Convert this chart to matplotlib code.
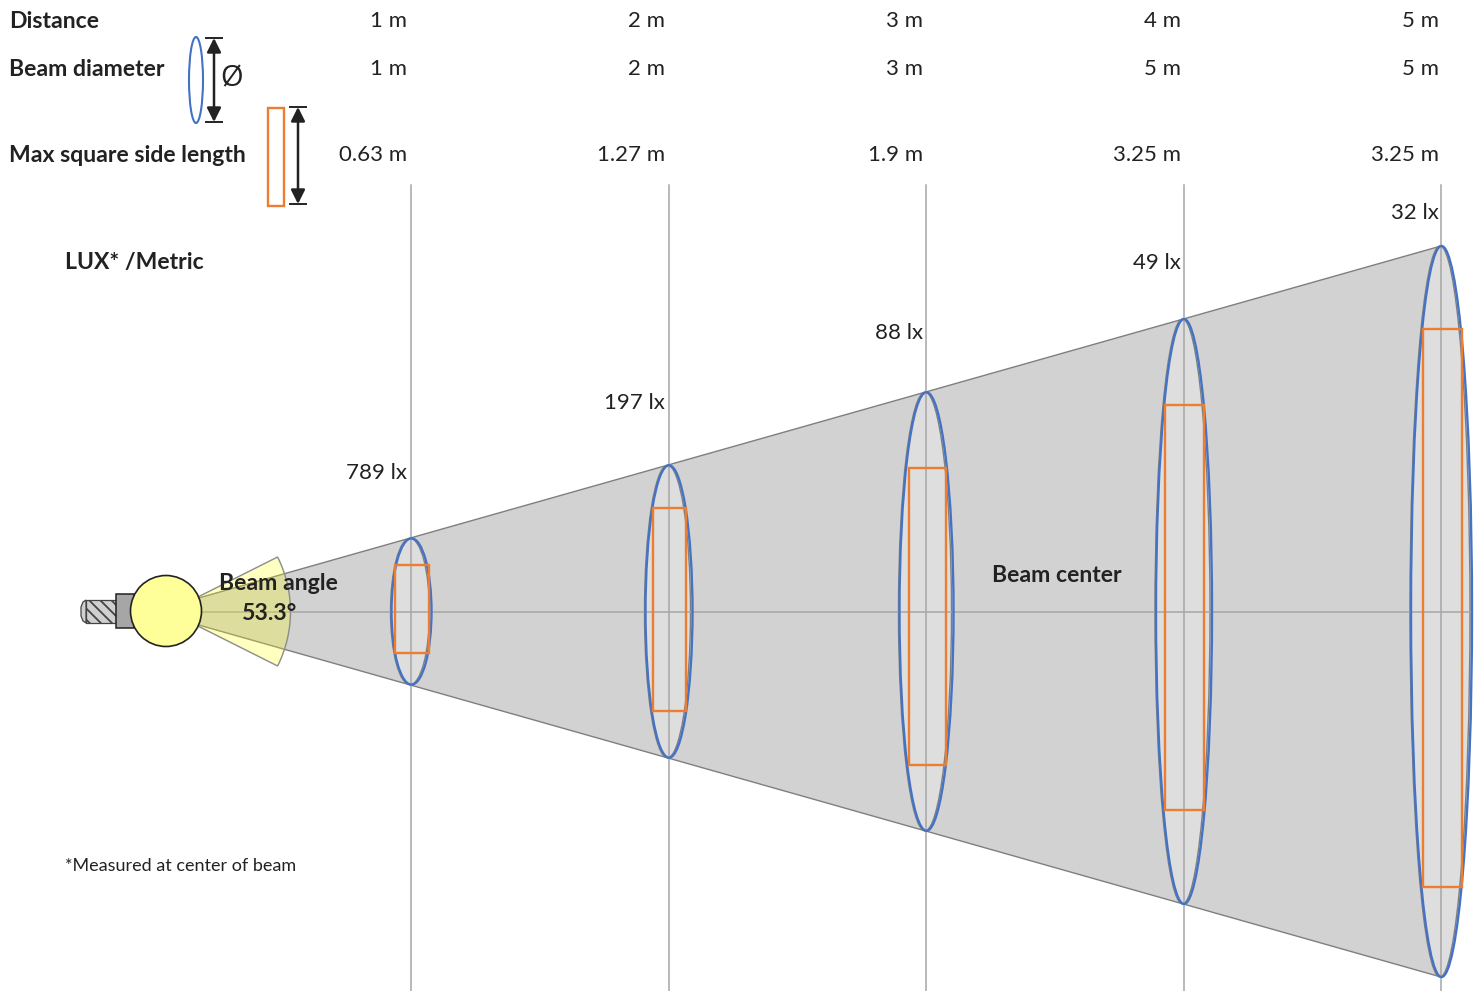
import matplotlib
matplotlib.use('Agg')
import matplotlib.pyplot as plt
from matplotlib.patches import Circle, Ellipse, Polygon, Rectangle, Wedge

plt.rcParams['font.family'] = ['Lato', 'DejaVu Sans']
plt.rcParams['hatch.linewidth'] = 1.3
plt.rcParams['hatch.color'] = '#444444'

# values printed in the table
distances = [1, 2, 3, 4, 5]
distance_labels = ['1 m', '2 m', '3 m', '4 m', '5 m']
diameter_labels = ['1 m', '2 m', '3 m', '5 m', '5 m']
square_labels = ['0.63 m', '1.27 m', '1.9 m', '3.25 m', '3.25 m']
lux_labels = ['789 lx', '197 lx', '88 lx', '49 lx', '32 lx']

# heights as they are drawn, in metres of the beam scale
beam_drawn = [1.0, 2.0, 3.0, 4.0, 5.0]
square_drawn = [0.60, 1.39, 2.03, 2.77, 3.82]

BLUE = '#4472c4'
ORANGE = '#ed7d31'
LINE = '#a6a6a6'
DARK = '#222222'

# pixel scale of the drawing
x_per_m = 257.5
y_per_m = 146.2
x0 = 153.5
yc = 611.5

ellipse_w = [40, 47, 54, 56, 61]
square_w = [34, 33, 37, 39, 39]
square_dy = [-2.5, -2, 5, -4, -3.5]  # the squares sit a bit off the beam centre

fig = plt.figure(figsize=(14.8, 9.91), dpi=100)
ax = fig.add_axes([0, 0, 1, 1])
ax.set_xlim(0, 1480)
ax.set_ylim(991, 0)
ax.axis('off')

xs = [x0 + d * x_per_m for d in distances]

# light cone
half_end = beam_drawn[-1] * y_per_m / 2
ax.add_patch(Polygon([(151, yc), (xs[-1], yc - half_end), (xs[-1], yc + half_end)],
                     fc='#d2d2d2', ec='#7f7f7f', lw=1.0, zorder=1))

# ellipse fill goes under the grid lines
for x, b, ew in zip(xs, beam_drawn, ellipse_w):
    ax.add_patch(Ellipse((x, yc), ew, b * y_per_m, fc='#dedede', ec='none', zorder=1.5))
    ax.add_patch(Ellipse((x - 1, yc), ew - 1, b * y_per_m, fc='none', ec='#7f7f7f', lw=1.0, zorder=1.6))

# grid lines
for x in xs:
    ax.plot([x, x], [185, 991], color=LINE, lw=1.1, zorder=2)
ax.plot([200, xs[-1] + ellipse_w[-1] / 2], [yc, yc], color=LINE, lw=1.1, zorder=2)

# beam ellipses and squares
for x, b, s, ew, sw, dy in zip(xs, beam_drawn, square_drawn, ellipse_w, square_w, square_dy):
    ax.add_patch(Ellipse((x + 0.5, yc), ew, b * y_per_m, fc='none', ec=BLUE, lw=1.7, zorder=4))
    sh = s * y_per_m
    ax.add_patch(Rectangle((x + 1 - sw / 2, yc + dy - sh / 2), sw, sh, fc='none', ec=ORANGE, lw=1.7, zorder=5))

# beam angle wedge
ax.add_patch(Wedge((169, yc), 121.5, -26.65, 26.65, fc=(1, 1, 0, 0.25), ec='#8c8c8c', lw=1.0, zorder=6))

# lamp
ax.add_patch(Rectangle((86, 600), 31, 23, fc='#d0d0d0', ec='#444444', hatch='\\\\\\', lw=0.9, zorder=7))
ax.add_patch(Polygon([(86, 600), (83, 602), (81, 607), (81, 616), (83, 621), (86, 623)],
                     fc='#d0d0d0', ec='#444444', lw=0.9, zorder=7))
ax.add_patch(Rectangle((116, 594), 18, 34, fc='#a6a6a6', ec=DARK, lw=1.1, zorder=8))
ax.add_patch(Circle((166, 611), 35.5, fc='#ffff99', ec=DARK, lw=1.2, zorder=9))

# key: ellipse and square symbols
ax.add_patch(Ellipse((196, 80), 14, 86, fc='none', ec=BLUE, lw=1.5))
ax.add_patch(Rectangle((268, 108), 16, 98, fc='none', ec=ORANGE, lw=1.7))


def dim_arrow(x, y1, y2):
    ax.plot([x - 8, x + 8], [y1, y1], color=DARK, lw=1.4)
    ax.plot([x - 8, x + 8], [y2, y2], color=DARK, lw=1.4)
    ax.annotate('', xy=(x, y1), xytext=(x, y2),
                arrowprops=dict(arrowstyle='<|-|>', color=DARK, lw=1.8, mutation_scale=21,
                                shrinkA=0, shrinkB=0))


dim_arrow(214, 38, 122)
dim_arrow(298, 107, 204)
ax.text(232, 79, 'Ø', fontsize=21, color=DARK, ha='center', va='center', family=['Open Sans', 'DejaVu Sans'])

# table
row_opts = dict(fontsize=16, color=DARK, va='center')
bold_opts = dict(fontsize=16.6, color=DARK, va='center', fontweight='bold')
ax.text(9, 21, 'Distance', **bold_opts)
ax.text(9, 69, 'Beam diameter', **bold_opts)
ax.text(9, 155, 'Max square side length', **bold_opts)
ax.text(65, 263, 'LUX* /Metric', **bold_opts)

lux_y = [473, 403, 333, 263, 213]
for d, a, b, c, lux, ly in zip(distances, distance_labels, diameter_labels, square_labels, lux_labels, lux_y):
    xr = 407 + (d - 1) * 258
    ax.text(xr, 21, a, ha='right', **row_opts)
    ax.text(xr, 69, b, ha='right', **row_opts)
    ax.text(xr, 155, c, ha='right', **row_opts)
    ax.text(xr, ly, lux, ha='right', **row_opts)

ax.text(278, 583, 'Beam angle', ha='center', zorder=10, **bold_opts)
ax.text(270, 613, '53.3°', ha='center', zorder=10, **bold_opts)
ax.text(1057, 575, 'Beam center', ha='center', zorder=10, **bold_opts)
ax.text(65, 866, '*Measured at center of beam', fontsize=13, color=DARK, va='center')

fig.savefig('out.png', dpi=100)
